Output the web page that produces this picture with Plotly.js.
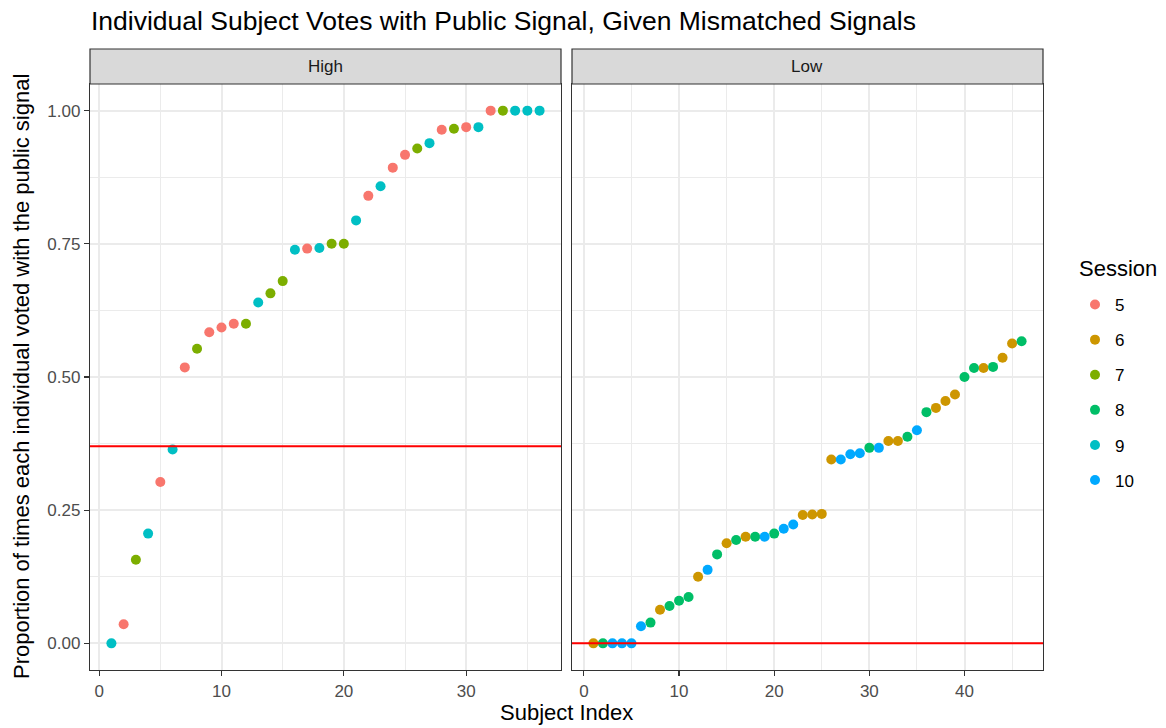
<!DOCTYPE html>
<html>
<head>
<meta charset="utf-8">
<script src="https://cdn.plot.ly/plotly-3.0.1.min.js"></script>
<style>html,body{margin:0;padding:0;background:#fff;}#chart{width:1166px;height:728px;}</style>
</head>
<body>
<div id="chart"></div>
<script>
// ---- data ----
const panels = ["High", "Low"];
const highIndex = [1,2,3,4,5,6,7,8,9,10,11,12,13,14,15,16,17,18,19,20,21,22,23,24,25,26,27,28,29,30,31,32,33,34,35,36];
const highValue = [0.000,0.036,0.157,0.206,0.303,0.364,0.518,0.553,0.584,0.593,0.600,0.600,0.640,0.657,0.680,0.739,0.741,0.742,0.750,0.750,0.794,0.840,0.858,0.893,0.917,0.929,0.939,0.964,0.966,0.969,0.969,1.000,1.000,1.000,1.000,1.000];
const highSession = [9,5,7,9,5,9,5,7,5,5,5,7,9,7,7,9,5,9,7,7,9,5,9,5,5,7,9,5,7,5,9,5,7,9,9,9];
const lowIndex = [1,2,3,4,5,6,7,8,9,10,11,12,13,14,15,16,17,18,19,20,21,22,23,24,25,26,27,28,29,30,31,32,33,34,35,36,37,38,39,40,41,42,43,44,45,46];
const lowValue = [0.000,0.000,0.000,0.000,0.000,0.032,0.039,0.063,0.070,0.080,0.087,0.125,0.138,0.167,0.188,0.194,0.200,0.200,0.200,0.206,0.215,0.223,0.241,0.242,0.243,0.345,0.345,0.355,0.357,0.367,0.367,0.380,0.380,0.388,0.400,0.434,0.442,0.455,0.467,0.500,0.517,0.517,0.519,0.536,0.563,0.567];
const lowSession = [6,8,10,10,10,10,8,6,8,8,8,6,10,8,6,8,6,8,10,8,10,10,6,6,6,6,10,10,10,8,10,6,6,8,10,8,6,6,6,8,8,6,8,6,6,8];
const signalLine = [0.37, 0];
const sessions = [5,6,7,8,9,10];
const sessionColors = ["#F8766D","#CD9600","#7CAE00","#00BE67","#00BFC4","#00A9FF"];
const xTicks = [0,10,20,30,40];
const yTicks = [0,0.25,0.5,0.75,1];
const yTickText = ["0.00","0.25","0.50","0.75","1.00"];

// ---- traces ----
const W = 1166, H = 728;
const px = v => v / W, py = v => 1 - v / H;
const traces = [];
sessions.forEach((s, k) => {
  let xs = [], ys = [], inHigh = true;
  highSession.forEach((ss, i) => { if (ss === s) { xs.push(highIndex[i]); ys.push(highValue[i]); } });
  if (xs.length === 0) {
    inHigh = false;
    lowSession.forEach((ss, i) => { if (ss === s) { xs.push(lowIndex[i]); ys.push(lowValue[i]); } });
  }
  traces.push({
    type: "scatter", mode: "markers", x: xs, y: ys,
    xaxis: inHigh ? "x" : "x2", yaxis: inHigh ? "y" : "y2",
    name: String(s), legendgroup: String(s),
    marker: { color: sessionColors[k], size: 10, line: { width: 0 } }
  });
});

const font = "Liberation Sans, Arial, sans-serif";
const panelTop = 84, panelBottom = 670;
const leftDom = [px(90), px(561)], rightDom = [px(572), px(1043)];
const yDom = [py(panelBottom), py(panelTop)];
const axisCommon = {
  showgrid: true, gridcolor: "#EBEBEB", gridwidth: 2,
  zeroline: false, showline: true, mirror: true, linecolor: "#333333", linewidth: 1.2,
  ticks: "outside", ticklen: 5, tickwidth: 1.2, tickcolor: "#333333",
  tickfont: { family: font, size: 17, color: "#4D4D4D" }
};
const xCommon = Object.assign({}, axisCommon, {
  tickmode: "array", tickvals: xTicks, ticktext: xTicks.map(String),
  minor: { dtick: 10, tick0: 5, showgrid: true, gridcolor: "#EBEBEB", gridwidth: 1, ticks: "" }
});
const yCommon = Object.assign({}, axisCommon, {
  range: [-0.05, 1.05], domain: yDom,
  tickmode: "array", tickvals: yTicks, ticktext: yTickText,
  minor: { dtick: 0.25, tick0: 0.125, showgrid: true, gridcolor: "#EBEBEB", gridwidth: 1, ticks: "" }
});

const shapes = [];
const annotations = [];
[leftDom, rightDom].forEach((d, i) => {
  shapes.push({ type: "rect", xref: "paper", yref: "paper", x0: d[0], x1: d[1], y0: py(panelTop), y1: py(49),
    fillcolor: "#D9D9D9", line: { color: "#333333", width: 1.2 }, layer: "above" });
  annotations.push({ xref: "paper", yref: "paper", x: (d[0] + d[1]) / 2, y: py(66.5), text: panels[i],
    showarrow: false, xanchor: "center", yanchor: "middle", font: { family: font, size: 17, color: "#1A1A1A" } });
});
signalLine.forEach((v, i) => {
  const ax = i === 0 ? "" : "2";
  shapes.push({ type: "line", xref: "x" + ax + " domain", yref: "y" + ax, x0: 0, x1: 1, y0: v, y1: v,
    line: { color: "#FF0000", width: 2 }, layer: "above" });
});
annotations.push({ xref: "paper", yref: "paper", x: px(566.5), y: py(712), text: "Subject Index",
  showarrow: false, xanchor: "center", yanchor: "middle", font: { family: font, size: 22, color: "#000" } });
annotations.push({ xref: "paper", yref: "paper", x: px(21), y: py(377), text: "Proportion of times each individual voted with the public signal",
  showarrow: false, textangle: -90, xanchor: "center", yanchor: "middle", font: { family: font, size: 22, color: "#000" } });
annotations.push({ xref: "paper", yref: "paper", x: px(1077), y: py(268), text: "Session",
  showarrow: false, xanchor: "left", yanchor: "middle", font: { family: font, size: 22, color: "#000" } });

const layout = {
  width: W, height: H,
  margin: { l: 0, r: 0, t: 0, b: 0 },
  paper_bgcolor: "#FFFFFF", plot_bgcolor: "#FFFFFF",
  font: { family: font },
  title: { text: "Individual Subject Votes with Public Signal, Given Mismatched Signals",
    x: px(91), xanchor: "left", xref: "paper", y: py(21), yanchor: "middle",
    font: { family: font, size: 26.5, color: "#000" } },
  xaxis: Object.assign({}, xCommon, { domain: leftDom, range: [-0.75, 37.75], anchor: "y" }),
  xaxis2: Object.assign({}, xCommon, { domain: rightDom, range: [-1.25, 48.25], anchor: "y2" }),
  yaxis: Object.assign({}, yCommon, { anchor: "x" }),
  yaxis2: Object.assign({}, yCommon, { anchor: "x2", showticklabels: false, ticks: "", matches: "y" }),
  showlegend: true,
  legend: {
    x: px(1075), y: py(287), xanchor: "left", yanchor: "top",
    font: { family: font, size: 17, color: "#000" },
    tracegroupgap: 10, bgcolor: "rgba(0,0,0,0)", borderwidth: 0
  },
  shapes: shapes,
  annotations: annotations
};

Plotly.newPlot("chart", traces, layout, { displayModeBar: false, staticPlot: true });
</script>
</body>
</html>
